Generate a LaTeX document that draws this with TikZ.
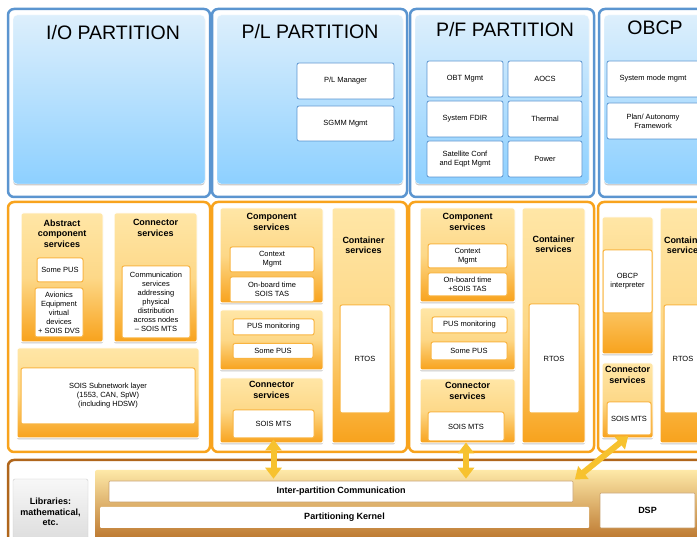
\documentclass[tikz,border=0pt]{standalone}
\usepackage{fontspec}
\setmainfont{Liberation Sans}
\usetikzlibrary{positioning,arrows.meta,shadows}
\definecolor{bluebord}{HTML}{5B95D0}
\definecolor{bluetop}{HTML}{DDEFFC}
\definecolor{bluebot}{HTML}{8DD0FF}
\definecolor{orgbord}{HTML}{F8A31D}
\definecolor{orgtop}{HTML}{FFE6A6}
\definecolor{orgmid}{HTML}{FDD888}
\definecolor{orgbot}{HTML}{F8A21C}
\definecolor{orgline}{HTML}{F9B440}
\definecolor{brnbord}{HTML}{B0661C}
\definecolor{brntop}{HTML}{FEE9A8}
\definecolor{brnbot}{HTML}{B2661C}
\definecolor{brnline}{HTML}{C9A06C}
\definecolor{linkcol}{HTML}{F7C22F}
\begin{document}
\begin{tikzpicture}[x=1pt,y=-1pt,
    frame/.style={rectangle,rounded corners=6pt,line width=2.5pt,fill=white,inner sep=0pt},
    softshade/.style={drop shadow={shadow xshift=0pt,shadow yshift=-1.5pt,fill=black,opacity=0.22}},
    bluepane/.style={rectangle,rounded corners=4pt,draw=white,top color=bluetop,bottom color=bluebot,softshade,inner sep=0pt},
    bluecell/.style={rectangle,rounded corners=2pt,draw=bluebord,line width=0.8pt,fill=white,inner sep=0pt,align=center,font=\fontsize{7.5}{9}\selectfont},
    title/.style={inner sep=0pt,font=\fontsize{19.5}{22}\selectfont},
    orgpane/.style={rectangle,rounded corners=2pt,draw=white,line width=1pt,top color=orgtop,bottom color=orgbot,middle color=orgmid,softshade,inner sep=0pt},
    orgcell/.style={rectangle,rounded corners=2pt,draw=orgline,line width=1pt,fill=white,inner sep=0pt,align=center,font=\fontsize{7.5}{9}\selectfont},
    head/.style={inner sep=0pt,align=center,font=\bfseries\fontsize{9}{10.5}\selectfont},
    brnpane/.style={rectangle,rounded corners=2pt,top color=brntop,bottom color=brnbot,inner sep=0pt},
    brncell/.style={rectangle,rounded corners=1pt,draw=brnline,line width=0.6pt,fill=white,inner sep=0pt,align=center,font=\bfseries\fontsize{9}{10.5}\selectfont},
    link/.style={linkcol,line width=6pt,{Triangle[width=16pt,length=11pt]}-{Triangle[width=16pt,length=11pt]},shorten <=1pt,shorten >=2pt}]
    \useasboundingbox (0,0) rectangle (697,537);
    \clip (0,0) rectangle (697,537);

    \node[frame,draw=bluebord,minimum width=202pt,minimum height=188pt] (ioframe) at (109,103) {};
    \node[bluepane,minimum width=192pt,minimum height=169pt] (iopane) at (109,99.5) {};
    \node[title] (iotitle) at (113,33) {I/O PARTITION};

    \node[frame,draw=bluebord,minimum width=195pt,minimum height=188pt] (plframe) at (309.5,103) {};
    \node[bluepane,minimum width=186pt,minimum height=169pt] (plpane) at (310,99.5) {};
    \node[title] (pltitle) at (310,32) {P/L PARTITION};
    \node[bluecell,minimum width=97pt,minimum height=36pt] (plmgr) at (345.5,81) {P/L Manager};
    \node[bluecell,minimum width=97pt,minimum height=35pt] (sgmm) at (345.5,123.5) {SGMM Mgmt};

    \node[frame,draw=bluebord,minimum width=184pt,minimum height=188pt] (pfframe) at (502,103) {};
    \node[bluepane,minimum width=174pt,minimum height=169pt] (pfpane) at (502,99.5) {};
    \node[title] (pftitle) at (505,30) {P/F PARTITION};
    \node[bluecell,minimum width=76pt,minimum height=36pt] (obt) at (465,79) {OBT Mgmt};
    \node[bluecell,minimum width=74pt,minimum height=36pt] (aocs) at (545,79) {AOCS};
    \node[bluecell,minimum width=76pt,minimum height=36pt] (fdir) at (465,119) {System FDIR};
    \node[bluecell,minimum width=74pt,minimum height=36pt] (thermal) at (545,119) {Thermal};
    \node[bluecell,minimum width=76pt,minimum height=36pt] (satconf) at (465,159) {Satellite Conf\\and Eqpt Mgmt};
    \node[bluecell,minimum width=74pt,minimum height=36pt] (power) at (545,159) {Power};

    \node[frame,draw=bluebord,minimum width=121pt,minimum height=188pt] (obcpframe) at (659.5,103) {};
    \node[bluepane,minimum width=111pt,minimum height=169pt] (obcppane) at (659.5,99.5) {};
    \node[title] (obcptitle) at (655,28) {OBCP};
    \node[bluecell,minimum width=92pt,minimum height=36pt] (sysmode) at (653,79) {System mode mgmt};
    \node[bluecell,minimum width=92pt,minimum height=36pt] (planfw) at (653,121) {Plan/ Autonomy\\Framework};

    \node[frame,draw=orgbord,minimum width=202pt,minimum height=250pt] (ioorg) at (109,327) {};
    \node[orgpane,minimum width=82pt,minimum height=129pt] (abscomp) at (62,277.5) {};
    \node[head,below=7pt of abscomp.north] (abshead) {Abstract\\component\\services};
    \node[orgcell,minimum width=46pt,minimum height=24pt] (iopus) at (60,270) {Some PUS};
    \node[orgcell,minimum width=48pt,minimum height=49pt] (avionics) at (59,312.5) {Avionics\\Equipment\\virtual\\devices\\+ SOIS DVS};
    \node[orgpane,minimum width=83pt,minimum height=129pt] (ioconn) at (155.5,277.5) {};
    \node[head,below=7pt of ioconn.north] (ioconnhead) {Connector\\services};
    \node[orgcell,minimum width=68pt,minimum height=72pt] (comm) at (156,302) {Communication\\services\\addressing\\physical\\distribution\\across nodes\\-- SOIS MTS};
    \node[orgpane,minimum width=182pt,minimum height=90pt] (subbg) at (108,393) {};
    \node[orgcell,minimum width=174pt,minimum height=56pt] (subnet) at (108,396) {SOIS Subnetwork layer\\(1553, CAN, SpW)\\(including HDSW)};

    \node[frame,draw=orgbord,minimum width=195pt,minimum height=250pt] (plorg) at (309.5,327) {};
    \node[orgpane,minimum width=103pt,minimum height=95pt] (plcomp) at (271.5,255.5) {};
    \node[head,below=6pt of plcomp.north] (plcomphead) {Component\\services};
    \node[orgcell,minimum width=84pt,minimum height=25pt] (plctx) at (272,259.5) {Context\\Mgmt};
    \node[orgcell,minimum width=84pt,minimum height=25pt] (plobt) at (272,289.5) {On-board time\\SOIS TAS};
    \node[orgpane,minimum width=103pt,minimum height=60pt] (plpus) at (271.5,340) {};
    \node[orgcell,minimum width=81pt,minimum height=16pt] (plpusmon) at (273.5,327) {PUS monitoring};
    \node[orgcell,minimum width=80pt,minimum height=15pt] (plsome) at (273,351) {Some PUS};
    \node[orgpane,minimum width=103pt,minimum height=65pt] (plconn) at (271.5,410.5) {};
    \node[head,below=4pt of plconn.north] (plconnhead) {Connector\\services};
    \node[orgcell,minimum width=81pt,minimum height=28pt] (plmts) at (273.5,424) {SOIS MTS};
    \node[orgpane,minimum width=63pt,minimum height=235pt] (plcont) at (363.5,325.5) {};
    \node[head,below=29pt of plcont.north] (plconthead) {Container\\services};
    \node[orgcell,minimum width=50pt,minimum height=108pt] (plrtos) at (365,359) {RTOS};

    \node[frame,draw=orgbord,minimum width=185pt,minimum height=250pt] (pforg) at (501.5,327) {};
    \node[orgpane,minimum width=95pt,minimum height=94pt] (pfcomp) at (467.5,255) {};
    \node[head,below=6pt of pfcomp.north] (pfcomphead) {Component\\services};
    \node[orgcell,minimum width=79pt,minimum height=24pt] (pfctx) at (467.5,256) {Context\\Mgmt};
    \node[orgcell,minimum width=79pt,minimum height=23pt] (pfobt) at (467.5,284.5) {On-board time\\+SOIS TAS};
    \node[orgpane,minimum width=95pt,minimum height=62pt] (pfpus) at (467.5,339) {};
    \node[orgcell,minimum width=75pt,minimum height=16pt] (pfpusmon) at (469.5,325) {PUS monitoring};
    \node[orgcell,minimum width=76pt,minimum height=18pt] (pfsome) at (469,351) {Some PUS};
    \node[orgpane,minimum width=95pt,minimum height=64pt] (pfconn) at (467.5,411) {};
    \node[head,below=4pt of pfconn.north] (pfconnhead) {Connector\\services};
    \node[orgcell,minimum width=76pt,minimum height=29pt] (pfmts) at (466,426.5) {SOIS MTS};
    \node[orgpane,minimum width=63pt,minimum height=235pt] (pfcont) at (553.5,325.5) {};
    \node[head,below=28pt of pfcont.north] (pfconthead) {Container\\services};
    \node[orgcell,minimum width=50pt,minimum height=109pt] (pfrtos) at (554,358.5) {RTOS};

    \node[frame,draw=orgbord,minimum width=132pt,minimum height=250pt] (obcporg) at (664,327) {};
    \node[orgpane,minimum width=51pt,minimum height=137pt] (obcpbg) at (627.5,285.5) {};
    \node[orgcell,minimum width=49pt,minimum height=63pt] (obcpintp) at (627.5,281.5) {OBCP\\interpreter};
    \node[orgpane,minimum width=51pt,minimum height=75pt] (obcpconn) at (627.5,400.5) {};
    \node[head,below=4pt of obcpconn.north] (obcpconnhead) {Connector\\services};
    \node[orgcell,minimum width=44pt,minimum height=33pt] (obcpmts) at (629,418.5) {SOIS MTS};
    \node[orgpane,minimum width=50pt,minimum height=235pt] (obcpcont) at (685,325.5) {};
    \node[head,below=29pt of obcpcont.north] (obcpconthead) {Container\\services};
    \node[orgcell,minimum width=38pt,minimum height=108pt] (obcprtos) at (683,359) {RTOS};

    \node[frame,draw=brnbord,minimum width=732pt,minimum height=100pt] (botframe) at (374,510) {};
    \node[rectangle,rounded corners=2pt,draw=black!20,top color=black!3,bottom color=black!14,minimum width=75pt,minimum height=66pt,align=center,font=\bfseries\fontsize{9}{10.5}\selectfont] (libs) at (50.5,512) {Libraries:\\mathematical,\\etc.};
    \node[brnpane,minimum width=645pt,minimum height=80pt] (kernbg) at (417.5,510) {};
    \node[brncell,minimum width=464pt,minimum height=21pt] (ipc) at (341,491.5) {Inter-partition Communication};
    \node[brncell,draw=none,minimum width=489pt,minimum height=21pt] (kernel) at (344.5,517.5) {Partitioning Kernel};
    \node[brncell,minimum width=95pt,minimum height=35pt] (dsp) at (647.5,510.5) {DSP};

    \draw[link] (plmts.south) -- (plmts.south |- ipc.north);
    \draw[link] (pfmts.south) -- (pfmts.south |- ipc.north);
    \draw[link] (obcpmts.south) -- (ipc.north east);
\end{tikzpicture}
\end{document}
